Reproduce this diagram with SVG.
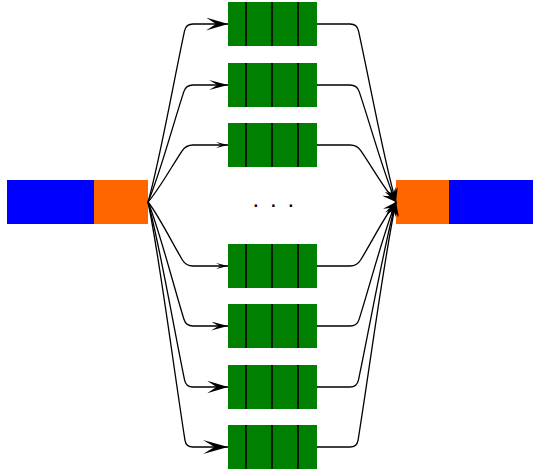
<svg xmlns="http://www.w3.org/2000/svg" width="533" height="470" viewBox="0 0 533 470">
<style>
.blue{fill:#0000ff}
.orange{fill:#ff6600}
.q{fill:#008000}
.div{stroke:#000;stroke-width:1.6}
.c{fill:none;stroke:#000;stroke-width:1.3}
.dots{font-family:"Liberation Sans",Arial,sans-serif;font-size:24px;fill:#000}
</style>
<defs>
<marker id="a25" markerUnits="userSpaceOnUse" viewBox="-25 -7 25 14" markerWidth="25" markerHeight="14" refX="0" refY="0" orient="auto"><path d="M0,0 L-25,-7 L-13.5,0 L-25,7 Z"/></marker>
<marker id="a22" markerUnits="userSpaceOnUse" viewBox="-22 -6.5 22 13" markerWidth="22" markerHeight="13" refX="0" refY="0" orient="auto"><path d="M0,0 L-22,-6.5 L-12,0 L-22,6.5 Z"/></marker>
<marker id="a21" markerUnits="userSpaceOnUse" viewBox="-21 -6.3 21 12.6" markerWidth="21" markerHeight="12.6" refX="0" refY="0" orient="auto"><path d="M0,0 L-21,-6.3 L-11.5,0 L-21,6.3 Z"/></marker>
<marker id="a19" markerUnits="userSpaceOnUse" viewBox="-19 -5 19 10" markerWidth="19" markerHeight="10" refX="0" refY="0" orient="auto"><path d="M0,0 L-19,-5 L-10.5,0 L-19,5 Z"/></marker>
<marker id="a17" markerUnits="userSpaceOnUse" viewBox="-17 -4.5 17 9" markerWidth="17" markerHeight="9" refX="0" refY="0" orient="auto"><path d="M0,0 L-17,-4.5 L-9.5,0 L-17,4.5 Z"/></marker>
<marker id="a12" markerUnits="userSpaceOnUse" viewBox="-12 -3 12 6" markerWidth="12" markerHeight="6" refX="0" refY="0" orient="auto"><path d="M0,0 L-12,-3 L-6.6,0 L-12,3 Z"/></marker>
<marker id="ar" markerUnits="userSpaceOnUse" viewBox="-14 -6 14 12" markerWidth="14" markerHeight="12" refX="0" refY="0" orient="auto"><path d="M0,0 L-14,-6 L-7.7,0 L-14,6 Z"/></marker>
</defs>

<g id="input">
<rect class="blue" x="7" y="180" width="87" height="44"/>
<rect class="orange" x="94" y="180" width="54" height="44"/>
</g>
<g id="output">
<rect class="orange" x="396" y="180" width="53" height="44"/>
<rect class="blue" x="449" y="180" width="84" height="44"/>
</g>

<g id="queue1"><rect class="q" x="228" y="2" width="89" height="44"/><path class="div" d="M246,2V46M272,2V46M298,2V46"/></g>
<g id="queue2"><rect class="q" x="228" y="63" width="89" height="44"/><path class="div" d="M246,63V107M272,63V107M298,63V107"/></g>
<g id="queue3"><rect class="q" x="228" y="123" width="89" height="44"/><path class="div" d="M246,123V167M272,123V167M298,123V167"/></g>
<g id="queue4"><rect class="q" x="228" y="244" width="89" height="44"/><path class="div" d="M246,244V288M272,244V288M298,244V288"/></g>
<g id="queue5"><rect class="q" x="228" y="304" width="89" height="44"/><path class="div" d="M246,304V348M272,304V348M298,304V348"/></g>
<g id="queue6"><rect class="q" x="228" y="365" width="89" height="44"/><path class="div" d="M246,365V409M272,365V409M298,365V409"/></g>
<g id="queue7"><rect class="q" x="228" y="425" width="89" height="44"/><path class="div" d="M246,425V469M272,425V469M298,425V469"/></g>

<g id="ellipsis"><text class="dots" x="252.4 270 287.4" y="207.2">...</text></g>

<g id="connectors">
<path class="c" marker-end="url(#a22)" d="M148,202 C158.96,164.35 172.48,87.33 184.54,30.85 Q186,24 193,24 L228,24"/>
<path class="c" marker-end="url(#a19)" d="M148,202 C158.75,177.73 172.01,128.08 183.84,91.66 Q186,85 193,85 L228,85"/>
<path class="c" marker-end="url(#a12)" d="M148,202 C158.24,190.74 170.86,167.71 182.12,150.82 Q186,145 193,145 L228,145"/>
<path class="c" marker-end="url(#a12)" d="M148,202 C158.33,214.76 171.09,240.89 182.43,259.98 Q186,266 193,266 L228,266"/>
<path class="c" marker-end="url(#a17)" d="M148,202 C158.79,227.81 172.08,280.59 183.95,319.31 Q186,326 193,326 L228,326"/>
<path class="c" marker-end="url(#a21)" d="M148,202 C158.98,241.19 172.52,321.36 184.59,380.14 Q186,387 193,387 L228,387"/>
<path class="c" marker-end="url(#a25)" d="M148,202 C159.08,254.38 172.74,361.52 184.93,440.08 Q186,447 193,447 L228,447"/>

<path class="c" marker-end="url(#ar)" d="M317,24 L350,24 Q357,24 358.5,30.84 C370.87,87.3 384.75,164.34 396,202"/>
<path class="c" marker-end="url(#ar)" d="M317,85 L350,85 Q357,85 359.21,91.64 C371.35,128.07 384.96,177.72 396,202"/>
<path class="c" marker-end="url(#ar)" d="M317,145 L350,145 Q357,145 360.95,150.78 C372.53,167.7 385.48,190.73 396,202"/>
<path class="c" marker-end="url(#ar)" d="M317,266 L350,266 Q357,266 360.64,260.02 C372.3,240.89 385.39,214.76 396,202"/>
<path class="c" marker-end="url(#ar)" d="M317,326 L350,326 Q357,326 359.1,319.32 C371.28,280.59 384.93,227.81 396,202"/>
<path class="c" marker-end="url(#ar)" d="M317,387 L350,387 Q357,387 358.44,380.15 C370.84,321.34 384.73,241.19 396,202"/>
<path class="c" marker-end="url(#ar)" d="M317,447 L350,447 Q357,447 358.1,440.09 C370.61,361.48 384.63,254.38 396,202"/>
</g>
</svg>
